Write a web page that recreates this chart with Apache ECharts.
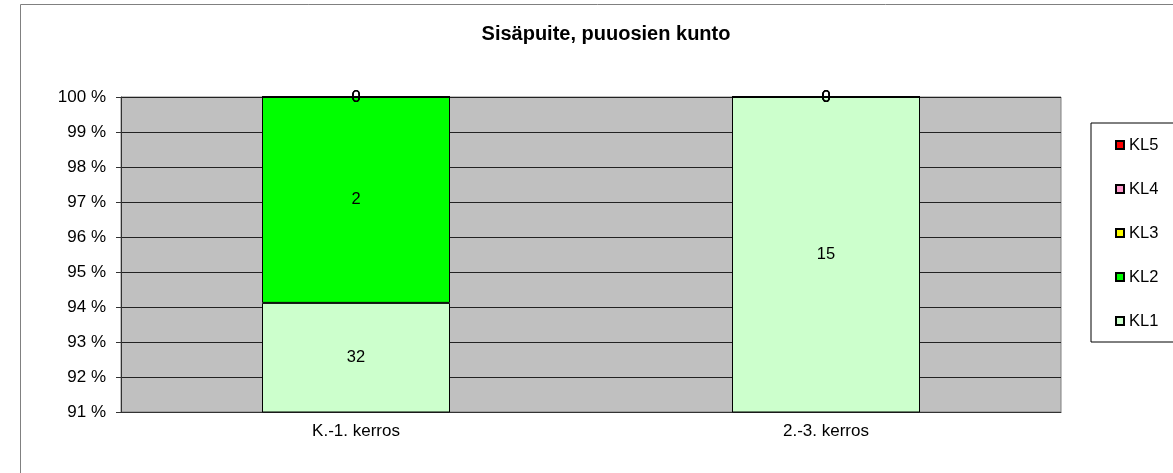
<!DOCTYPE html>
<html>
<head>
<meta charset="utf-8">
<script src="https://cdn.jsdelivr.net/npm/echarts@6/dist/echarts.min.js"></script>
<style>
  html, body { margin: 0; padding: 0; background: #fff; }
  #chart { width: 1173px; height: 473px; }
</style>
</head>
<body>
<div id="chart"></div>
<script>
// categories and counts per condition class
const categories = ['K.-1. kerros', '2.-3. kerros']
const kl1 = [32, 15]
const kl2 = [2, 0]
const kl3 = [0, 0]
const kl4 = [0, 0]
const kl5 = [0, 0]
const yMin = 91
const yMax = 100

const seriesDefs = [
  { name: 'KL1', data: kl1, color: '#ccffcc' },
  { name: 'KL2', data: kl2, color: '#00ff00' },
  { name: 'KL3', data: kl3, color: '#ffff00' },
  { name: 'KL4', data: kl4, color: '#ff99cc' },
  { name: 'KL5', data: kl5, color: '#ff0000' }
]

// 100 % stacking: totals per category
const totals = categories.map((_, i) => seriesDefs.reduce((s, d) => s + d.data[i], 0))

const font = 'Liberation Sans, Arial, sans-serif'

const chart = echarts.init(document.getElementById('chart'))

const option = {
  animation: false,
  textStyle: { fontFamily: font },
  title: {
    text: 'Sisäpuite, puuosien kunto',
    left: 606,
    top: 24,
    padding: 0,
    textAlign: 'center',
    textStyle: { fontSize: 20, fontWeight: 'bold', color: '#000', fontFamily: font }
  },
  graphic: [
    {
      type: 'rect',
      z: -10,
      silent: true,
      shape: { x: 20.5, y: 4.5, width: 1200, height: 500 },
      style: { fill: 'none', stroke: '#808080', lineWidth: 1 }
    }
  ],
  legend: {
    orient: 'vertical',
    left: 1091,
    top: 123,
    padding: [13, 40, 12, 24],
    itemGap: 26,
    itemWidth: 8,
    itemHeight: 8,
    icon: 'rect',
    borderColor: '#000',
    borderWidth: 1,
    data: ['KL5', 'KL4', 'KL3', 'KL2', 'KL1'],
    textStyle: { fontSize: 16.5, lineHeight: 18, color: '#000', fontFamily: font }
  },
  grid: {
    left: 121,
    top: 97,
    right: 112,
    bottom: 61,
    show: true,
    backgroundColor: '#c0c0c0',
    borderColor: '#808080',
    borderWidth: 1
  },
  xAxis: {
    type: 'category',
    data: categories,
    axisLine: { lineStyle: { color: '#333', width: 1 } },
    axisTick: { length: 5, lineStyle: { color: '#333' } },
    axisLabel: { margin: 11, fontSize: 17, color: '#000', fontFamily: font }
  },
  yAxis: {
    type: 'value',
    min: yMin,
    max: yMax,
    interval: 1,
    axisLine: { show: true, lineStyle: { color: '#333', width: 1 } },
    axisTick: { show: true, length: 5, lineStyle: { color: '#333' } },
    axisLabel: { margin: 15, fontSize: 17, color: '#000', fontFamily: font, formatter: '{value} %' },
    splitLine: { lineStyle: { color: '#222', width: 1 } }
  },
  series: seriesDefs.map(d => ({
    name: d.name,
    type: 'bar',
    stack: 'total',
    barWidth: '40%',
    data: d.data.map((v, i) => ({ value: v / totals[i] * 100, count: v })),
    itemStyle: { color: d.color, borderColor: '#000', borderWidth: 1 },
    label: {
      show: true,
      position: 'inside',
      fontSize: 16.5,
      color: '#000',
      fontFamily: font,
      formatter: p => String(p.data.count)
    }
  }))
}

chart.setOption(option)
</script>
</body>
</html>
